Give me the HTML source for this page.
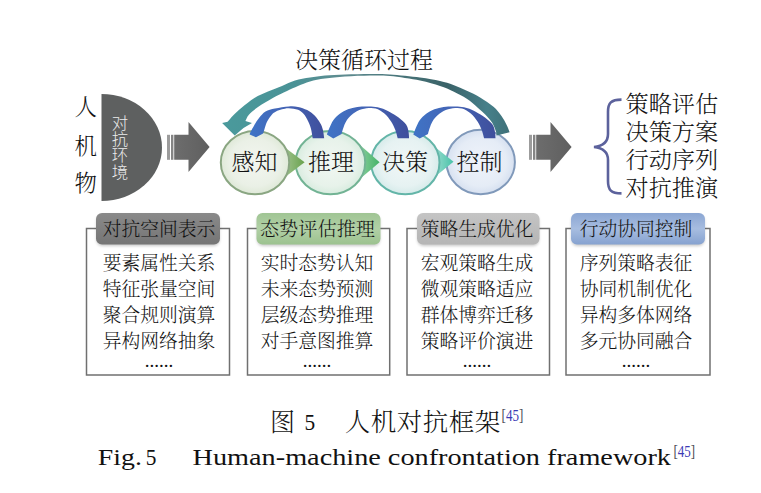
<!DOCTYPE html>
<html lang="zh">
<head>
<meta charset="utf-8">
<title>人机对抗框架</title>
<style>
html,body{margin:0;padding:0;background:#fff;}
body{width:761px;height:493px;overflow:hidden;position:relative;}
svg{position:absolute;left:0;top:0;display:block;}
.cj{font-family:"Liberation Serif","Noto Serif CJK SC",serif;fill:#111;font-weight:300;}
.sn{font-family:"Liberation Sans","Noto Sans CJK SC",sans-serif;}
</style>
</head>
<body>
<svg width="761" height="493" viewBox="0 0 761 493">
<defs>
  <linearGradient id="gArrow" x1="0" y1="0" x2="1" y2="0">
    <stop offset="0" stop-color="#6d6d6d"/><stop offset="1" stop-color="#5f5f5f"/>
  </linearGradient>
  <radialGradient id="c1" cx="0.5" cy="0.5" r="0.5">
    <stop offset="0" stop-color="#f3f6f0"/><stop offset="0.75" stop-color="#eaf0e6"/><stop offset="1" stop-color="#dfe9d8"/>
  </radialGradient>
  <radialGradient id="c2" cx="0.5" cy="0.5" r="0.5">
    <stop offset="0" stop-color="#f1f7f2"/><stop offset="0.75" stop-color="#e7f2ea"/><stop offset="1" stop-color="#d8ecdf"/>
  </radialGradient>
  <radialGradient id="c3" cx="0.5" cy="0.5" r="0.5">
    <stop offset="0" stop-color="#f0f7f7"/><stop offset="0.75" stop-color="#e6f2f2"/><stop offset="1" stop-color="#d6ebea"/>
  </radialGradient>
  <radialGradient id="c4" cx="0.5" cy="0.5" r="0.5">
    <stop offset="0" stop-color="#eff3fa"/><stop offset="0.75" stop-color="#e5ecf6"/><stop offset="1" stop-color="#d6e0f0"/>
  </radialGradient>
  <linearGradient id="bigArc" gradientUnits="userSpaceOnUse" x1="222" y1="0" x2="510" y2="0">
    <stop offset="0" stop-color="#4a9a9c"/><stop offset="0.25" stop-color="#4a9296"/><stop offset="0.42" stop-color="#5f8c90"/><stop offset="0.6" stop-color="#4a777c"/><stop offset="0.78" stop-color="#3a6268"/><stop offset="0.92" stop-color="#46808a"/><stop offset="1" stop-color="#3f7078"/>
  </linearGradient>
  <linearGradient id="bl" x1="0" y1="0" x2="1" y2="0">
    <stop offset="0" stop-color="#3f74c6"/><stop offset="0.5" stop-color="#4463b4"/><stop offset="1" stop-color="#3f4f9c"/>
  </linearGradient>
  <linearGradient id="t1" x1="0" y1="0" x2="1" y2="0"><stop offset="0" stop-color="#a3c592"/><stop offset="1" stop-color="#69a24e"/></linearGradient>
  <linearGradient id="t2" x1="0" y1="0" x2="1" y2="0"><stop offset="0" stop-color="#8ed0a0"/><stop offset="1" stop-color="#44b368"/></linearGradient>
  <linearGradient id="t3" x1="0" y1="0" x2="1" y2="0"><stop offset="0" stop-color="#9adccf"/><stop offset="1" stop-color="#48c2a8"/></linearGradient>
  <linearGradient id="h1" x1="0" y1="0" x2="0" y2="1">
    <stop offset="0" stop-color="#8a8a8a"/><stop offset="1" stop-color="#757575"/>
  </linearGradient>
  <linearGradient id="h2" x1="0" y1="0" x2="0" y2="1">
    <stop offset="0" stop-color="#a0c594"/><stop offset="0.5" stop-color="#b1d0a6"/><stop offset="1" stop-color="#9cc28f"/>
  </linearGradient>
  <linearGradient id="h3" x1="0" y1="0" x2="0" y2="1">
    <stop offset="0" stop-color="#c4c4c4"/><stop offset="1" stop-color="#b5b5b5"/>
  </linearGradient>
  <linearGradient id="h4" x1="0" y1="0" x2="0" y2="1">
    <stop offset="0" stop-color="#8ba6d3"/><stop offset="0.5" stop-color="#a7bde0"/><stop offset="1" stop-color="#86a2d0"/>
  </linearGradient>
  <filter id="sh" x="-10%" y="-20%" width="120%" height="150%">
    <feGaussianBlur stdDeviation="1.5"/>
  </filter>
</defs>

<!-- title -->
<text class="cj" x="364" y="67.6" font-size="23" text-anchor="middle">决策循环过程</text>

<!-- left labels -->
<g class="cj" font-size="22.5" text-anchor="middle">
<text x="85.8" y="115">人</text>
<text x="85.8" y="153.5">机</text>
<text x="85.8" y="191">物</text>
</g>

<!-- half disc -->
<path d="M101.5 94 A60.5 53.5 0 0 1 101.5 201 Z" fill="#5e6060"/>
<g class="sn" font-size="16.4" fill="#ececec" text-anchor="middle" font-weight="300">
  <text x="120" y="128.5">对</text>
  <text x="120" y="144.9">抗</text>
  <text x="120" y="161.3">环</text>
  <text x="120" y="177.7">境</text>
</g>

<!-- arrows -->
<rect x="167.0" y="134.8" width="3" height="25" fill="#9c9c9c"/>
<rect x="171.0" y="134.8" width="2.4" height="25" fill="#858585"/>
<path d="M174.2 134.8 H188.5 V122 L209.6 147 L188.5 172 V159.8 H174.2 Z" fill="url(#gArrow)"/>
<rect x="529.0" y="134.8" width="3" height="25" fill="#9c9c9c"/>
<rect x="533.0" y="134.8" width="2.4" height="25" fill="#858585"/>
<path d="M536.2 134.8 H550.5 V122 L571.6 147 L550.5 172 V159.8 H536.2 Z" fill="url(#gArrow)"/>

<!-- circles -->
<ellipse cx="480.7" cy="162" rx="34.2" ry="32.3" fill="url(#c4)" stroke="#8099ba" stroke-width="2"/>
<path d="M434 146.3 L453.5 161.8 L434 177.5 Z" fill="url(#t3)"/>
<ellipse cx="405.3" cy="162.6" rx="34.2" ry="31.6" fill="url(#c3)" stroke="#63b5a8" stroke-width="2"/>
<path d="M358 143.2 L379.6 162.3 L358 180.5 Z" fill="url(#t2)"/>
<ellipse cx="330.4" cy="162.6" rx="34.8" ry="31.6" fill="url(#c2)" stroke="#72b394" stroke-width="2"/>
<path d="M282.5 145.8 L304.6 162.3 L282.5 179 Z" fill="url(#t1)"/>
<ellipse cx="255" cy="162.6" rx="34.2" ry="31.6" fill="url(#c1)" stroke="#8aa682" stroke-width="2"/>

<!-- big arc -->
<path d="M509.6 132.2 C509.2 131.1 508.2 128.2 506.9 125.5 C505.5 122.8 503.7 119.2 501.5 116.1 C499.3 113.0 497.1 109.9 493.5 106.8 C489.9 103.7 484.6 100.1 480.1 97.4 C475.7 94.7 471.2 92.8 466.8 90.7 C462.4 88.6 457.9 86.6 453.4 85.0 C448.9 83.4 445.6 82.2 440.0 81.0 C434.4 79.8 428.3 78.6 420.0 77.5 C411.7 76.4 398.3 75.1 390.0 74.5 C381.7 73.9 377.5 74.0 370.0 74.0 C362.5 74.0 352.5 74.2 345.0 74.5 C337.5 74.8 330.8 75.0 325.0 75.5 C319.2 76.0 315.0 76.7 310.0 77.5 C305.0 78.3 299.7 79.1 295.0 80.5 C290.3 81.9 286.5 84.2 282.0 86.0 C277.5 87.8 272.6 89.5 268.0 91.5 C263.4 93.5 258.9 95.2 254.4 98.0 C250.0 100.8 244.9 105.1 241.3 108.0 C237.8 110.9 235.4 113.2 233.1 115.5 C230.8 117.8 228.5 120.8 227.6 121.8 L222.1 123 L234.7 135.6 L243.5 128 L252 123 L245.4 121 C246.0 120.0 246.8 117.0 248.9 114.7 C251.0 112.4 254.0 109.8 258.0 107.0 C262.0 104.2 268.0 100.7 272.8 98.0 C277.6 95.3 282.8 93.0 287.0 91.0 C291.2 89.0 294.2 87.6 298.0 86.0 C301.8 84.4 305.5 82.8 310.0 81.5 C314.5 80.2 319.2 79.3 325.0 78.5 C330.8 77.7 337.5 77.0 345.0 76.5 C352.5 76.0 362.5 75.6 370.0 75.5 C377.5 75.4 381.7 75.2 390.0 76.0 C398.3 76.8 411.7 78.8 420.0 80.5 C428.3 82.2 434.4 84.2 440.0 86.0 C445.6 87.8 448.9 89.3 453.4 91.4 C457.9 93.5 462.8 96.0 466.8 98.7 C470.8 101.4 474.4 104.7 477.5 107.4 C480.6 110.1 483.1 112.2 485.5 114.8 C487.9 117.4 490.4 119.9 492.2 122.8 C494.0 125.7 495.5 130.1 496.2 132.2 C496.9 134.3 496.4 134.9 496.5 135.5 Z" fill="url(#bigArc)"/>

<!-- small arcs -->
<g fill="url(#bl)">
  <path d="M324.2 138.2 C324.0 136.7 323.5 131.9 322.8 129.4 C322.1 126.9 321.5 125.3 320.1 123.0 C318.7 120.7 316.8 117.8 314.6 115.6 C312.5 113.4 310.0 111.5 307.2 110.1 C304.4 108.6 301.1 107.5 298.0 106.9 C294.9 106.3 292.6 106.2 288.8 106.4 C285.0 106.7 278.9 107.6 275.0 108.4 C271.1 109.2 268.1 109.9 265.5 111.5 C262.9 113.1 261.1 115.6 259.2 117.8 C257.3 120.0 255.8 122.5 254.4 124.9 C253.0 127.3 251.3 130.4 250.5 132.0 C249.7 133.6 249.8 134.0 249.7 134.4 L256.0 137.3 L263.1 133.6 C263.3 132.9 263.7 131.7 264.3 129.7 C264.9 127.7 265.8 124.3 267.0 121.8 C268.2 119.3 270.3 116.4 271.8 114.7 C273.3 113.0 274.3 112.4 276.0 111.5 C277.7 110.6 279.9 109.8 282.0 109.3 C284.1 108.8 286.1 108.1 288.8 108.2 C291.5 108.3 295.6 108.8 298.0 109.7 C300.4 110.6 301.8 111.9 303.5 113.8 C305.2 115.7 306.9 118.8 308.1 121.2 C309.3 123.7 310.1 125.7 310.9 128.5 C311.7 131.3 312.4 136.6 312.7 138.2 Z"/>
  <path d="M409.1 138.2 C409.0 137.0 408.9 133.3 408.4 131.0 C407.9 128.7 407.7 126.8 406.1 124.5 C404.5 122.2 401.3 119.6 398.6 117.5 C395.9 115.4 392.3 113.6 389.7 112.1 C387.1 110.6 385.4 109.6 383.0 108.7 C380.6 107.8 378.4 107.3 375.6 106.9 C372.8 106.5 369.5 106.4 366.4 106.4 C363.3 106.4 360.3 106.4 357.2 106.9 C354.1 107.4 350.9 108.1 348.0 109.2 C345.1 110.3 342.2 112.0 339.8 113.8 C337.3 115.6 335.0 117.9 333.3 120.2 C331.6 122.5 330.7 125.2 329.6 127.6 C328.5 130.0 327.3 133.3 326.9 134.5 L333.3 138.6 L341.6 134 C341.8 133.4 341.9 132.2 342.5 130.4 C343.1 128.6 344.1 125.3 345.3 123.0 C346.5 120.7 347.9 118.6 349.9 116.6 C351.9 114.6 354.5 112.4 357.2 111.0 C360.0 109.6 363.3 108.7 366.4 108.3 C369.5 107.9 372.6 107.6 375.6 108.5 C378.6 109.4 381.8 111.3 384.4 113.5 C387.0 115.7 389.3 118.8 391.1 121.5 C392.9 124.2 394.0 126.7 395.1 129.5 C396.2 132.3 397.3 136.8 397.7 138.2 Z"/>
  <path d="M495.5 138.2 C495.4 137.0 495.3 133.3 494.8 131.0 C494.3 128.7 494.1 126.8 492.5 124.5 C490.9 122.2 487.7 119.6 485.0 117.5 C482.3 115.4 478.7 113.6 476.1 112.1 C473.5 110.6 471.8 109.6 469.4 108.7 C467.0 107.8 464.8 107.3 462.0 106.9 C459.2 106.5 455.9 106.4 452.8 106.4 C449.7 106.4 446.7 106.4 443.6 106.9 C440.5 107.4 437.3 108.1 434.4 109.2 C431.5 110.3 428.6 112.0 426.2 113.8 C423.8 115.6 421.4 117.9 419.7 120.2 C418.0 122.5 417.1 125.2 416.0 127.6 C414.9 130.0 413.8 133.3 413.3 134.5 L419.7 138.6 L428.0 134 C428.1 133.4 428.3 132.2 428.9 130.4 C429.5 128.6 430.5 125.3 431.7 123.0 C432.9 120.7 434.3 118.6 436.3 116.6 C438.3 114.6 440.9 112.4 443.6 111.0 C446.4 109.6 449.7 108.7 452.8 108.3 C455.9 107.9 459.0 107.6 462.0 108.5 C465.0 109.4 468.2 111.3 470.8 113.5 C473.4 115.7 475.7 118.8 477.5 121.5 C479.3 124.2 480.4 126.7 481.5 129.5 C482.6 132.3 483.7 136.8 484.1 138.2 Z"/>
</g>

<g class="cj" font-size="23" text-anchor="middle">
  <text x="254.5" y="170">感知</text>
  <text x="331" y="170">推理</text>
  <text x="405" y="170">决策</text>
  <text x="479.5" y="170">控制</text>
</g>

<!-- brace -->
<path d="M621.5 99.6 C611 99.6 608 103 608 112 V134 C608 142 603 146 594 147 C603 148 608 152 608 160 V181 C608 190 611 193.4 621.5 193.4" fill="none" stroke="#5c629c" stroke-width="2.6"/>

<g class="cj" font-size="23.2">
  <text x="625.5" y="111.5">策略评估</text>
  <text x="625.5" y="139.5">决策方案</text>
  <text x="625.5" y="167.5">行动序列</text>
  <text x="625.5" y="195.5">对抗推演</text>
</g>

<!-- boxes -->
<g fill="none" stroke="#707070" stroke-width="1.5">
  <path d="M97 228.5 H86.5 V375 H229.5 V228.5 H219"/>
  <path d="M258 228.5 H247.5 V375 H389.7 V228.5 H379"/>
  <path d="M418 228.5 H407 V375 H549.5 V228.5 H538"/>
  <path d="M572 228.5 H566 V375 H710 V228.5 H704"/>
</g>

<!-- header shadows -->
<g fill="#000" opacity="0.22" filter="url(#sh)">
<rect x="96.5" y="215" width="123" height="31" rx="6"/>
<rect x="257" y="215" width="123" height="31" rx="6"/>
<rect x="417.5" y="215" width="121.5" height="31" rx="6"/>
<rect x="571.5" y="215" width="133" height="31" rx="6"/>
</g>
<!-- headers -->
<rect x="96" y="213" width="124" height="31.5" rx="6" fill="url(#h1)"/>
<rect x="256.5" y="213" width="124" height="31.5" rx="6" fill="url(#h2)"/>
<rect x="417" y="213" width="122.5" height="31.5" rx="6" fill="url(#h3)"/>
<rect x="571" y="213" width="134" height="31.5" rx="6" fill="url(#h4)"/>

<g class="cj" font-size="18.8" text-anchor="middle">
  <text x="159" y="235.5">对抗空间表示</text>
  <text x="317.5" y="235.5" font-size="19.2">态势评估推理</text>
  <text x="477" y="235.5">策略生成优化</text>
  <text x="636" y="235.5">行动协同控制</text>
</g>

<g class="cj" font-size="18.8" text-anchor="middle">
  <text x="159" y="270">要素属性关系</text>
  <text x="159" y="296">特征张量空间</text>
  <text x="159" y="322">聚合规则演算</text>
  <text x="159" y="347.5">异构网络抽象</text>
  <text x="159" y="366.6" font-size="19">......</text>
  <text x="317" y="270">实时态势认知</text>
  <text x="317" y="296">未来态势预测</text>
  <text x="317" y="322">层级态势推理</text>
  <text x="317" y="347.5">对手意图推算</text>
  <text x="317" y="366.6" font-size="19">......</text>
  <text x="477" y="270">宏观策略生成</text>
  <text x="477" y="296">微观策略适应</text>
  <text x="477" y="322">群体博弈迁移</text>
  <text x="477" y="347.5">策略评价演进</text>
  <text x="477" y="366.6" font-size="19">......</text>
  <text x="636" y="270">序列策略表征</text>
  <text x="636" y="296">协同机制优化</text>
  <text x="636" y="322">异构多体网络</text>
  <text x="636" y="347.5">多元协同融合</text>
  <text x="636" y="366.6" font-size="19">......</text>
</g>

<!-- captions -->
<text class="cj" y="431" font-size="25"><tspan x="270">图</tspan><tspan x="344.8" font-size="25.5" letter-spacing="0.5">人机对抗框架</tspan></text>
<g transform="translate(304.6,430.4) scale(0.95,1)"><text class="cj" x="0" y="0" font-size="22.5">5</text></g>
<g transform="translate(501.6,421.2) scale(0.9,1.1)"><text class="cj" x="0" y="0" font-size="14.5" style="fill:#4a4a55">[<tspan style="fill:#3a3ab4">45</tspan>]</text></g>
<g transform="translate(97.8,464.6) scale(1.16,1)"><text class="cj" x="0" y="0" font-size="24">Fig.</text></g>
<g transform="translate(145.8,464.6) scale(0.95,1)"><text class="cj" x="0" y="0" font-size="22.5">5</text></g>
<g transform="translate(192.6,464.6) scale(1.177,1)"><text class="cj" x="0" y="0" font-size="24">Human-machine confrontation framework</text></g>
<g transform="translate(673.4,457.2) scale(0.9,1.1)"><text class="cj" x="0" y="0" font-size="14.5" style="fill:#4a4a55">[<tspan style="fill:#3a3ab4">45</tspan>]</text></g>
</svg>
</body>
</html>
